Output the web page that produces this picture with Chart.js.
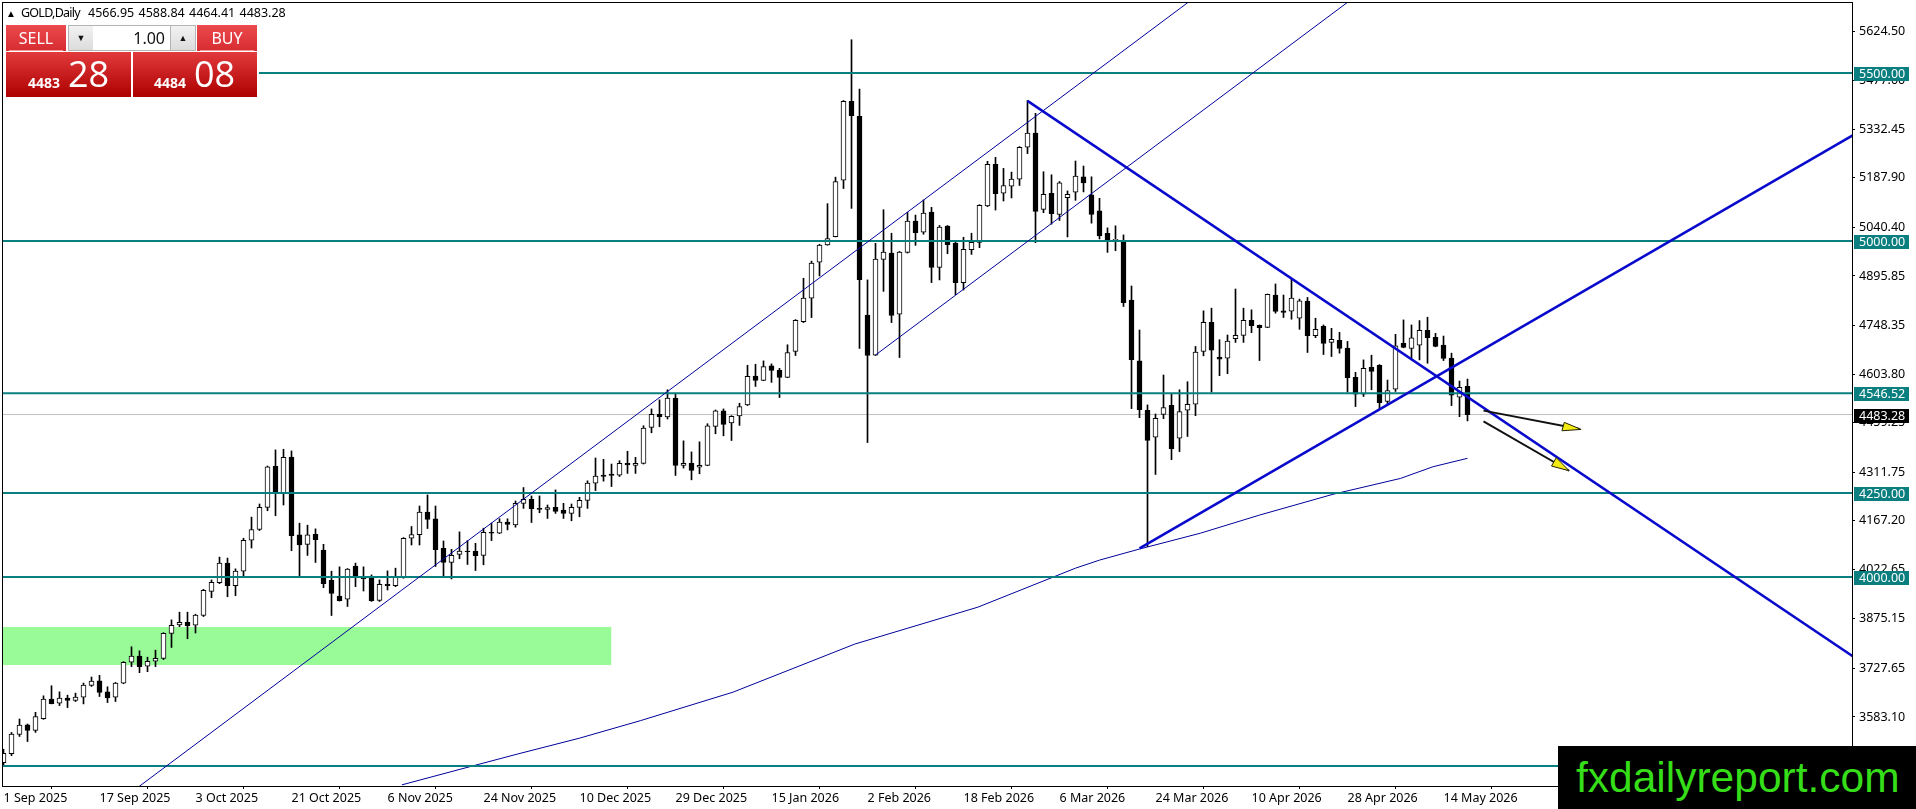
<!DOCTYPE html>
<html>
<head>
<meta charset="utf-8">
<title>GOLD,Daily</title>
<script src="https://cdn.jsdelivr.net/npm/chart.js@4/dist/chart.umd.min.js"></script>
<style>
  html, body { margin: 0; padding: 0; background: #fff; overflow: hidden; }
  #wrap { position: relative; width: 1916px; height: 809px; font-family: "Noto Sans", sans-serif; }
  #chart { position: absolute; left: 0; top: 0; }
  .abs { position: absolute; white-space: nowrap; }
  .redTop { background: linear-gradient(#ec4a4e, #d62c30); color: #fff; text-align: center; font-size: 16px; line-height: 26px; height: 26px; top: 25px; }
  .redTop i { position: absolute; left: 3px; right: 3px; bottom: 0; height: 1px; background: #f29a9a; }
  .redBig { background: linear-gradient(#e23a3c, #ad0000); color: #fff; top: 52px; height: 45px; }
  .spin { top: 25px; height: 24px; background: linear-gradient(#f2f2f2, #dcdcdc); border: 1px solid #b4b4b4; box-sizing: content-box; color: #111; text-align: center; font-size: 9px; line-height: 24px; }
</style>
</head>
<body>
<div id="wrap">
  <canvas id="chart" width="1916" height="809"></canvas>

  <div class="abs" style="left:6px;top:6px;font-size:10px;line-height:14px;color:#000">&#9650;</div>
  <div class="abs" style="left:21px;top:4px;font-size:12.5px;line-height:18px;letter-spacing:-0.75px;color:#000">GOLD,Daily</div>
  <div class="abs" style="left:88px;top:4px;font-size:12.5px;line-height:18px;word-spacing:1px;color:#000">4566.95 4588.84 4464.41 4483.28</div>

  <div class="abs" style="left:3px;top:24px;width:256px;height:75px;background:#fff"></div>
  <div class="abs redTop" style="left:6px;width:60px">SELL<i></i></div>
  <div class="abs spin" style="left:68px;width:24px">&#9660;</div>
  <div class="abs" style="left:93px;top:25px;width:72px;height:24px;padding-right:5px;border-top:1px solid #b4b4b4;border-bottom:1px solid #b4b4b4;background:#fff;color:#111;text-align:right;font-size:16px;line-height:24px">1.00</div>
  <div class="abs spin" style="left:170px;width:24px">&#9650;</div>
  <div class="abs redTop" style="left:197px;width:60px">BUY<i></i></div>
  <div class="abs redBig" style="left:6px;width:125px">
    <span class="abs" style="left:22px;top:21px;font-size:14px;line-height:20px;font-weight:700">4483</span>
    <span class="abs" style="left:62px;top:-3px;font-size:36px;line-height:50px;font-family:'Open Sans',sans-serif;font-weight:400">28</span>
  </div>
  <div class="abs redBig" style="left:133px;width:124px">
    <span class="abs" style="left:21px;top:21px;font-size:14px;line-height:20px;font-weight:700">4484</span>
    <span class="abs" style="left:61px;top:-3px;font-size:36px;line-height:50px;font-family:'Open Sans',sans-serif;font-weight:400">08</span>
  </div>

  <div class="abs" style="left:1558px;top:746px;width:358px;height:63px;background:#000;color:#35de18;font-family:'Liberation Sans',sans-serif;font-size:42.5px;line-height:63px;text-indent:18px">fxdailyreport.com</div>
</div>

<script>
// daily candles, one value per bar, bar 0 = 1 Sep 2025
const opens = [3447,3474,3531,3560,3543,3578,3636,3624,3639,3632,3642,3677,3691,3658,3642,3684,3746,3764,3734,3749,3757,3832,3857,3865,3856,3885,3957,3983,4041,3974,
  4017,4109,4141,4207,4330,4249,4357,4125,4097,4127,4080,3990,3943,3934,4032,3998,3997,3930,3978,3974,4000,4115,4126,4193,4173,4085,4043,4067,4077,4076,
  4064,4133,4130,4163,4155,4219,4231,4204,4201,4207,4199,4189,4207,4228,4279,4303,4306,4303,4338,4332,4338,4445,4484,4476,4532,4332,4338,4327,4332,4448,
  4494,4458,4479,4512,4598,4585,4628,4616,4594,4671,4760,4830,4937,4988,5013,5181,5416,5371,4779,4660,4945,4964,4782,4966,5059,5026,5086,4921,5044,4994,
  4876,4974,4996,5104,5228,5142,5163,5184,5279,5321,5094,5142,5079,5129,5145,5191,5137,5090,5023,5001,4997,4824,4643,4496,4416,4484,4511,4413,4496,4514,
  4671,4758,4654,4651,4709,4719,4764,4749,4743,4839,4792,4791,4770,4821,4718,4746,4698,4704,4681,4594,4544,4624,4630,4522,4559,4695,4680,4690,4734,4713,
  4690,4651,4535,4566.95];
const highs = [3487,3537,3577,3562,3597,3646,3676,3658,3648,3654,3684,3702,3707,3673,3686,3748,3792,3780,3761,3782,3834,3872,3895,3895,3889,3963,3991,4059,4056,4024,
  4115,4178,4217,4330,4378,4380,4375,4160,4154,4143,4097,4017,4030,4025,4041,4030,4006,3991,4018,4026,4117,4150,4211,4244,4211,4107,4082,4134,4108,4100,
  4145,4160,4173,4173,4226,4266,4241,4241,4214,4259,4219,4217,4237,4286,4354,4350,4336,4346,4374,4356,4450,4500,4527,4557,4547,4405,4372,4402,4456,4497,
  4500,4480,4517,4630,4633,4643,4634,4621,4691,4766,4889,4940,4990,5111,5190,5418,5599,5452,4884,4993,5093,5023,4969,5085,5077,5122,5100,5046,5046,4996,
  5011,5023,5108,5237,5249,5216,5205,5281,5418,5380,5206,5197,5177,5149,5238,5223,5191,5127,5039,5045,5018,4866,4735,4512,4485,4601,4545,4557,4581,4686,
  4792,4800,4706,4720,4857,4800,4795,4750,4842,4872,4839,4889,4827,4832,4770,4750,4740,4728,4701,4609,4646,4660,4632,4586,4722,4765,4750,4763,4773,4725,
  4717,4666,4583,4588.84];
const lows = [3441,3468,3525,3510,3537,3576,3622,3617,3611,3629,3622,3674,3644,3626,3629,3682,3733,3715,3718,3733,3754,3790,3852,3816,3833,3882,3938,3980,3941,3944,
  4002,4086,4138,4197,4182,4214,4078,4002,4064,4043,3968,3885,3928,3912,3971,3958,3927,3927,3961,3971,3996,4095,4095,4144,4031,4003,3994,4054,4037,4019,
  4036,4108,4129,4140,4148,4204,4162,4191,4174,4189,4174,4167,4179,4204,4257,4285,4269,4299,4308,4308,4336,4429,4447,4470,4302,4324,4289,4307,4331,4426,
  4420,4406,4451,4510,4567,4584,4579,4534,4593,4659,4757,4772,4896,4987,5012,5156,5097,4680,4400,4659,4850,4757,4653,4964,4987,5020,4876,4884,4962,4840,
  4854,4960,4980,5102,5092,5119,5128,5165,5260,4995,5084,5050,5061,5012,5121,5146,5053,5006,4966,4971,4805,4501,4474,4090,4305,4471,4349,4373,4418,4480,
  4658,4550,4599,4605,4698,4698,4727,4644,4742,4785,4772,4767,4737,4668,4712,4662,4656,4666,4550,4507,4537,4557,4501,4512,4552,4682,4646,4646,4636,4685,
  4644,4510,4477,4464.41];
const closes = [3475,3532,3559,3543,3584,3636,3623,3639,3632,3642,3678,3690,3656,3640,3684,3746,3764,3733,3749,3758,3832,3856,3865,3855,3886,3960,3984,4041,3974,4017,
  4109,4141,4207,4328,4252,4356,4123,4095,4125,4111,3980,3951,3929,4023,4001,3995,3929,3978,3974,4000,4115,4126,4193,4171,4081,4043,4064,4077,4075,4063,
  4133,4130,4163,4156,4219,4231,4203,4201,4206,4195,4189,4207,4228,4279,4300,4299,4302,4338,4333,4338,4443,4484,4477,4532,4332,4338,4317,4332,4450,4494,
  4454,4478,4507,4597,4585,4626,4615,4594,4668,4764,4830,4934,4988,5007,5177,5416,5373,4885,4659,4946,4967,4778,4967,5059,5025,5083,4921,5041,4989,4876,
  4975,4996,5106,5228,5141,5165,5184,5279,5321,5088,5139,5081,5173,5139,5193,5173,5079,5015,5003,5005,4816,4647,4498,4406,4472,4504,4382,4492,4514,4669,
  4758,4675,4648,4702,4719,4764,4748,4742,4841,4790,4787,4830,4822,4718,4737,4695,4707,4680,4593,4544,4621,4612,4519,4555,4688,4683,4712,4734,4712,4686,
  4650,4541,4564,4483.28];

// axis labels
const dateLabels = ["1 Sep 2025","17 Sep 2025","3 Oct 2025","21 Oct 2025","6 Nov 2025","24 Nov 2025","10 Dec 2025","29 Dec 2025",
  "15 Jan 2026","2 Feb 2026","18 Feb 2026","6 Mar 2026","24 Mar 2026","10 Apr 2026","28 Apr 2026","14 May 2026"];
const dateBars = [0,12,24,36,48,60,72,84,96,108,120,132,144,156,168,180];
const priceTicks = [5624.50,5477.00,5332.45,5187.90,5040.40,4895.85,4748.35,4603.80,4459.25,4311.75,4167.20,4022.65,3875.15,3727.65,3583.10];

// horizontal levels
const levels = [5500,5000,4546.52,4250,4000,3437];
const taggedLevels = [5500,5000,4546.52,4250,4000];
const lastPrice = 4483.28;

// green zone
const zoneBars = [-1,76];
const zoneHigh = 3851;
const zoneLow = 3738;

// drawn lines, [bar, price]
const channelUpper = [[15,3341.5],[150,5744.5]];
const channelLower = [[109,4660.5],[170,5746]];
const fallLine = [[128,5417],[232,3750]];
const riseLine = [[142,4085],[232,5326]];
const maBars = [49.8,58.75,64.3,72,79.6,91.2,106.4,121.8,134,137,142,149.6,157,166.2,174.6,178.7,183];
const maValues = [3381,3438,3473,3520,3572,3657,3800,3910,4026,4050,4083,4130,4184,4246,4293,4328,4353];

// the two arrows
const arrowOneShaft = [[185,4495],[197,4440]];
const arrowOneHead = [[197.2,4439],[195.1,4460],[194.8,4435],[197.2,4439]];
const arrowTwoShaft = [[185,4463],[195.7,4316]];
const arrowTwoHead = [[195.7,4316],[194.1,4355],[193.5,4330],[195.7,4316]];

const pts = (arr) => arr.map((p) => ({ x: p[0], y: p[1] }));

function lineSet(data, color, width, order) {
  return { type: "line", data: data, borderColor: color, borderWidth: width, pointRadius: 0, tension: 0, fill: false, order: order };
}

const wicks = lows.map((l, i) => ({ x: i, y: [l, highs[i]] }));
const bodies = opens.map((o, i) => ({ x: i, y: [Math.min(o, closes[i]), Math.max(o, closes[i])] }));
const bodyColors = opens.map((o, i) => (closes[i] >= o ? "#ffffff" : "#000000"));

const datasets = [];

datasets.push({
  type: "line",
  data: zoneBars.map((b) => ({ x: b, y: zoneHigh })),
  borderWidth: 0,
  pointRadius: 0,
  backgroundColor: "#98fb98",
  fill: { target: { value: zoneLow } },
  order: 20
});

datasets.push(lineSet([{ x: -1, y: lastPrice }, { x: 232, y: lastPrice }], "#c0c0c0", 1, 19));

datasets.push({ type: "bar", data: wicks, backgroundColor: "#000000", barThickness: 1, grouped: false, order: 18 });
datasets.push({ type: "bar", data: bodies, backgroundColor: bodyColors, borderColor: "#000000", borderWidth: 1, borderSkipped: false, barThickness: 5, grouped: false, order: 17 });

datasets.push(lineSet(maBars.map((b, i) => ({ x: b, y: maValues[i] })), "#00009a", 1, 10));

levels.forEach((lv) => {
  datasets.push(lineSet([{ x: -1, y: lv }, { x: 232, y: lv }], "#0b7f7f", 2, 9));
});

datasets.push(lineSet(pts(channelUpper), "#00009a", 1, 5));
datasets.push(lineSet(pts(channelLower), "#00009a", 1, 5));
datasets.push(lineSet(pts(fallLine), "#0a0acd", 2.5, 4));
datasets.push(lineSet(pts(riseLine), "#0a0acd", 2.5, 4));

datasets.push(lineSet(pts(arrowOneShaft), "#111111", 2, 3));
datasets.push(lineSet(pts(arrowTwoShaft), "#111111", 2, 3));
[arrowOneHead, arrowTwoHead].forEach((head) => {
  const s = lineSet(pts(head), "#222200", 1, 2);
  s.backgroundColor = "#f2ea12";
  s.fill = "shape";
  datasets.push(s);
});

// frame round the plot and the coloured price tags on the right axis
const chartDecor = {
  id: "chartDecor",
  afterDraw(chart) {
    const { ctx, chartArea: a, scales } = chart;
    ctx.save();
    ctx.strokeStyle = "#000";
    ctx.lineWidth = 1;
    ctx.strokeRect(a.left + 0.5, a.top + 0.5, a.right - a.left, a.bottom - a.top);
    ctx.font = '12.5px "Noto Sans"';
    ctx.textAlign = "left";
    ctx.textBaseline = "middle";
    const tag = (value, bg) => {
      const y = Math.round(scales.y.getPixelForValue(value));
      ctx.fillStyle = bg;
      ctx.fillRect(a.right + 2, y - 6, 55, 14);
      ctx.fillStyle = "#fff";
      ctx.fillText(value.toFixed(2), a.right + 7, y + 1);
    };
    taggedLevels.forEach((lv) => tag(lv, "#0b7f7f"));
    tag(lastPrice, "#000");
    ctx.restore();
  }
};

new Chart(document.getElementById("chart"), {
  data: { datasets: datasets },
  options: {
    responsive: false,
    animation: false,
    devicePixelRatio: 1,
    events: [],
    layout: { padding: { left: 2, top: 2, right: 0, bottom: 0 } },
    plugins: { legend: { display: false }, tooltip: { enabled: false } },
    scales: {
      x: {
        type: "linear",
        offset: false,
        min: -0.1875,
        max: 231.0625,
        grid: { drawOnChartArea: false, color: "#000", tickLength: 3, tickColor: "#000" },
        border: { display: false },
        afterFit(scale) { scale.height = 23; scale.paddingLeft = 0; scale.paddingRight = 0; },
        afterBuildTicks(scale) { scale.ticks = dateBars.map((b) => ({ value: b })); },
        ticks: {
          autoSkip: false,
          maxRotation: 0,
          align: "start",
          padding: 2,
          color: "#000",
          font: { family: "Noto Sans", size: 12.5 },
          callback: (value) => dateLabels[dateBars.indexOf(value)]
        }
      },
      y: {
        type: "linear",
        position: "right",
        min: 3377.6,
        max: 5711.3,
        grid: { drawOnChartArea: false, color: "#000", tickLength: 3, tickColor: "#000" },
        border: { display: false },
        afterFit(scale) { scale.width = 64; scale.paddingTop = 0; scale.paddingBottom = 0; },
        afterBuildTicks(scale) { scale.ticks = priceTicks.map((v) => ({ value: v })); },
        ticks: {
          autoSkip: false,
          padding: 4,
          color: "#000",
          font: { family: "Noto Sans", size: 12.5 },
          callback: (value) => value.toFixed(2)
        }
      }
    }
  },
  plugins: [chartDecor]
});
</script>
</body>
</html>
